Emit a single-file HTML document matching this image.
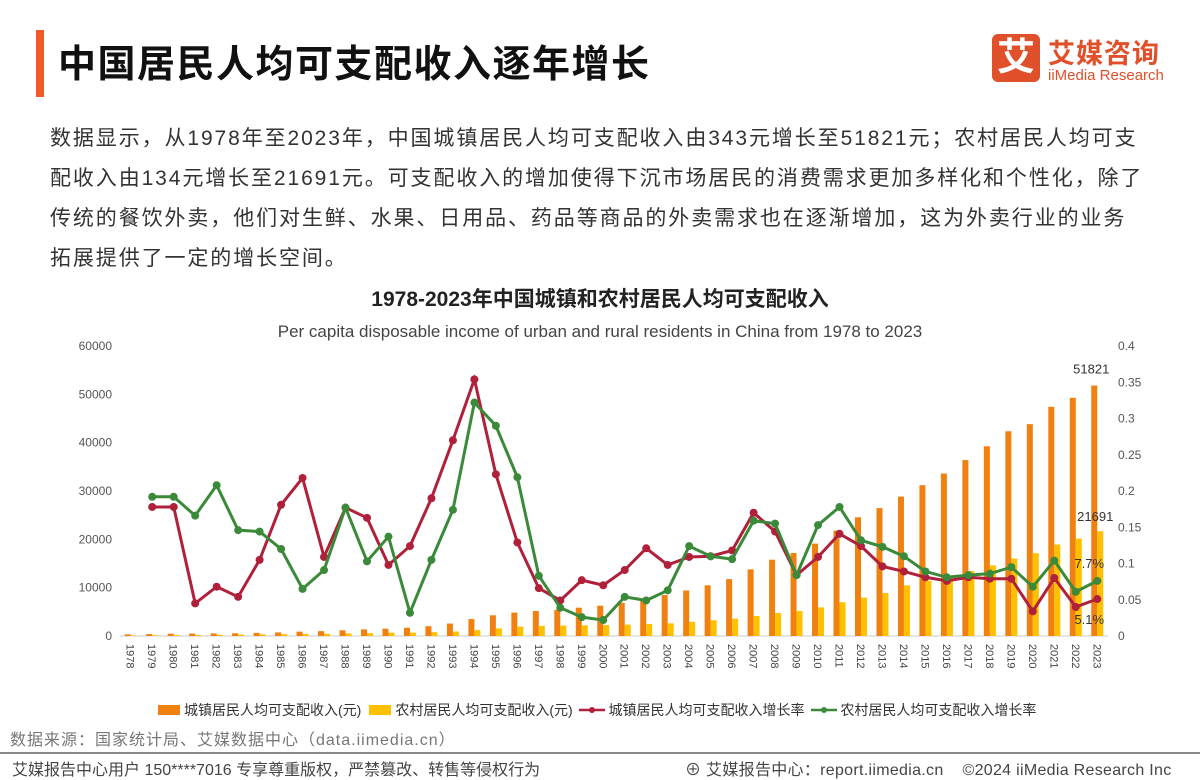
<!DOCTYPE html>
<html><head><meta charset="utf-8"><style>
body{margin:0;width:1200px;height:779px;background:#fff;font-family:"Liberation Sans","Noto Sans CJK SC",sans-serif;position:relative;overflow:hidden}
.abs{position:absolute;white-space:nowrap}
.p{left:50px;font-size:21px;color:#333;letter-spacing:1.9px}
</style></head><body>
<div class="abs" style="left:36px;top:30px;width:8px;height:67px;background:#F05A28"></div>
<div class="abs" style="left:58px;top:33px;font-size:38px;font-weight:bold;color:#111;letter-spacing:1.5px">中国居民人均可支配收入逐年增长</div>
<div class="abs" style="left:990px;top:34px;width:188px;height:50px">
  <div style="position:absolute;left:2px;top:0;width:48px;height:48px;background:#E0502A;border-radius:6px;color:#fff;font-size:38px;font-weight:bold;text-align:center;line-height:48px">艾</div>
  <div style="position:absolute;left:58px;top:-2px;font-size:27px;font-weight:bold;color:#E0502A;letter-spacing:1px">艾媒咨询</div>
  <div style="position:absolute;left:58px;top:33px;font-size:15px;color:#E0502A">iiMedia Research</div>
</div>
<div class="abs p" style="top:122px">数据显示，从1978年至2023年，中国城镇居民人均可支配收入由343元增长至51821元；农村居民人均可支</div>
<div class="abs p" style="top:162px">配收入由134元增长至21691元。可支配收入的增加使得下沉市场居民的消费需求更加多样化和个性化，除了</div>
<div class="abs p" style="top:202px">传统的餐饮外卖，他们对生鲜、水果、日用品、药品等商品的外卖需求也在逐渐增加，这为外卖行业的业务</div>
<div class="abs p" style="top:242px">拓展提供了一定的增长空间。</div>

<svg id="chart" class="abs" style="left:0;top:0" width="1200" height="779">
<text x="600" y="306" text-anchor="middle" font-size="21" font-weight="bold" fill="#222">1978-2023年中国城镇和农村居民人均可支配收入</text>
<text x="600" y="337" text-anchor="middle" font-size="17" fill="#444">Per capita disposable income of urban and rural residents in China from 1978 to 2023</text>
<g id="g"></g>
</svg>

<div class="abs" style="left:158px;top:700px;font-size:14px;color:#333;display:flex;align-items:center">
  <span style="display:inline-flex;align-items:center"><i style="display:inline-block;width:22px;height:10px;background:#F08010;margin-right:4px"></i>城镇居民人均可支配收入(元)</span>
  <span style="display:inline-flex;align-items:center;margin-left:8px"><i style="display:inline-block;width:22px;height:10px;background:#FFC000;margin-right:4px"></i>农村居民人均可支配收入(元)</span>
  <span style="display:inline-flex;align-items:center;margin-left:6px"><svg width="26" height="10"><line x1="0" y1="5" x2="26" y2="5" stroke="#B0203A" stroke-width="2.5"/><circle cx="13" cy="5" r="3" fill="#B0203A"/></svg>&nbsp;城镇居民人均可支配收入增长率</span>
  <span style="display:inline-flex;align-items:center;margin-left:6px"><svg width="26" height="10"><line x1="0" y1="5" x2="26" y2="5" stroke="#3A8A3A" stroke-width="2.5"/><circle cx="13" cy="5" r="3" fill="#3A8A3A"/></svg>&nbsp;农村居民人均可支配收入增长率</span>
</div>
<div class="abs" style="left:10px;top:726px;font-size:16px;color:#777;letter-spacing:1px">数据来源：国家统计局、艾媒数据中心（data.iimedia.cn）</div>
<div class="abs" style="left:0;top:752px;width:1200px;height:2px;background:#888"></div>
<div class="abs" style="left:12px;top:756px;font-size:16px;color:#444">艾媒报告中心用户 150****7016 专享尊重版权，严禁篡改、转售等侵权行为</div>
<div class="abs" style="left:685px;top:756px;font-size:16px;color:#444;letter-spacing:0.3px">⊕ 艾媒报告中心：report.iimedia.cn &nbsp;&nbsp; ©2024 iiMedia Research Inc</div>

<script>
const years=[];for(let y=1978;y<=2023;y++)years.push(String(y));
const urbanIncome=[343,405,478,500,535,565,652,739,900,1002,1180,1374,1510,1700,2027,2577,3496,4283,4839,5160,5425,5854,6280,6860,7703,8472,9422,10493,11759,13786,15781,17175,19109,21810,24565,26467,28844,31195,33616,36396,39251,42359,43834,47412,49283,51821];
const ruralIncome=[134,160,191,223,270,310,355,398,424,463,545,602,686,709,784,922,1221,1578,1926,2090,2162,2210,2253,2366,2476,2622,2936,3255,3587,4140,4761,5153,5919,6977,7917,8896,10489,11422,12363,13432,14617,16021,17131,18931,20133,21691];
const urbanRate=[null,.178,.178,.045,.068,.054,.105,.181,.218,.109,.177,.163,.098,.124,.19,.27,.354,.223,.129,.066,.049,.077,.070,.091,.121,.098,.109,.110,.118,.17,.144,.084,.109,.141,.124,.096,.089,.081,.076,.081,.079,.079,.034,.080,.040,.051];
const ruralRate=[null,.192,.192,.166,.208,.146,.144,.120,.065,.091,.177,.103,.137,.032,.105,.174,.322,.29,.219,.083,.039,.026,.022,.054,.049,.063,.124,.110,.106,.159,.155,.084,.153,.178,.132,.123,.110,.089,.081,.084,.086,.095,.068,.104,.061,.076];
const leftTicks=[0,10000,20000,30000,40000,50000,60000];
const rightTicks=[0,0.05,0.1,0.15,0.2,0.25,0.3,0.35,0.4];
const X0=120,X1=1108,Y0=636,Y1=346;
const step=(X1-X0)/years.length;
const xc=i=>X0+(i+0.5)*step;
const yL=v=>Y0-(v/60000)*(Y0-Y1);
const yR=v=>Y0-(v/0.4)*(Y0-Y1);
const NS="http://www.w3.org/2000/svg";
const g=document.getElementById('g');
function mk(t,a){const e=document.createElementNS(NS,t);for(const k in a)e.setAttribute(k,a[k]);g.appendChild(e);return e;}
leftTicks.forEach(v=>{const e=mk('text',{x:112,y:yL(v)+4,'text-anchor':'end','font-size':12,fill:'#555'});e.textContent=v;

});
rightTicks.forEach(v=>{const e=mk('text',{x:1118,y:yR(v)+4,'font-size':12,fill:'#555'});e.textContent=v;

});
const ax=mk('line',{x1:X0,y1:Y0,x2:X1,y2:Y0,stroke:'#ccc'});


years.forEach((y,i)=>{
 const b=mk('rect',{x:xc(i)-6,y:yL(urbanIncome[i]),width:6,height:Y0-yL(urbanIncome[i]),fill:'#F08010'});
 
 
 const r=mk('rect',{x:xc(i),y:yL(ruralIncome[i]),width:6,height:Y0-yL(ruralIncome[i]),fill:'#FFC000'});
 
 
 const t=mk('text',{x:0,y:0,'font-size':11,fill:'#444',transform:`translate(${xc(i)-4},${644}) rotate(90)`,'text-anchor':'start'});
 t.textContent=y;
 
 
});
function line(arr,color,name){
 let d='';arr.forEach((v,i)=>{if(v==null)return;d+=(d?'L':'M')+xc(i)+','+yR(v);});
 const p=mk('path',{d,fill:'none',stroke:color,'stroke-width':3});
 
 
 arr.forEach((v,i)=>{if(v==null)return;const c=mk('circle',{cx:xc(i),cy:yR(v),r:4,fill:color});
 
 });
}
line(urbanRate,'#B0203A','urban-rate');
line(ruralRate,'#3A8A3A','rural-rate');
const n=years.length-1;
function lab(txt,x,y,name){const e=mk('text',{x,y,'font-size':13,fill:'#333','text-anchor':'middle'});e.textContent=txt;

}
lab(urbanIncome[n],xc(n)-6,yL(urbanIncome[n])-12,'label-urban-2023');
lab(ruralIncome[n],xc(n)-2,yL(ruralIncome[n])-10,'label-rural-2023');
lab('7.7%',xc(n)-8,yR(ruralRate[n])-13,'label-rural-rate-2023');
lab('5.1%',xc(n)-8,yR(urbanRate[n])+25,'label-urban-rate-2023');
</script>
</body></html>
